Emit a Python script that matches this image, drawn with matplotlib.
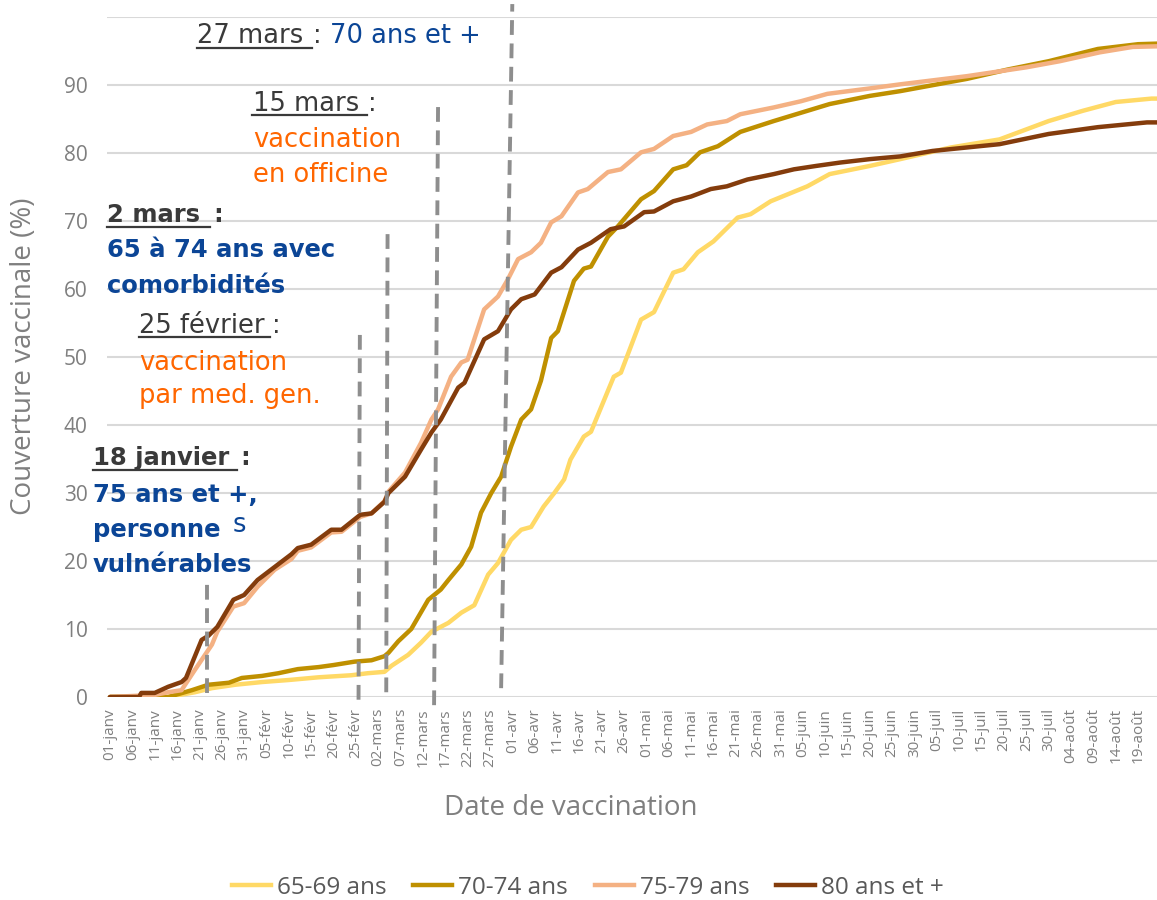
import matplotlib
matplotlib.use("Agg")
import matplotlib.pyplot as plt
from matplotlib.lines import Line2D

# ---------------- data (day 0 = 01-janv) ----------------
series_labels = ["65-69 ans", "70-74 ans", "75-79 ans", "80 ans et +"]
series_colors = ["#FFD966", "#BF9000", "#F4B183", "#843C0C"]

days_6569 = [0, 13, 19, 22.8, 28, 34, 40, 46.7, 54, 57.7, 61.4, 63, 66.7, 69.6, 71.9, 75.7,
             78.6, 81.5, 84.6, 86.8, 89.7, 92, 94.2, 97, 99.4, 101.6, 103, 106, 107.6, 112.7,
             114.3, 118.8, 121.7, 126, 128.3, 131.5, 135, 140.4, 143.3, 147.8, 156, 161, 170,
             176.8, 188, 199, 210, 217.6, 225, 233, 235]
vals_6569 = [0, 0, 0.7, 1.3, 1.8, 2.2, 2.5, 2.9, 3.2, 3.5, 3.7, 4.6, 6.2, 8, 9.6, 10.9,
             12.4, 13.5, 18, 19.7, 23.1, 24.6, 25, 28, 30, 32, 34.9, 38.3, 39, 47.1,
             47.7, 55.5, 56.6, 62.4, 62.9, 65.4, 67, 70.5, 71, 72.9, 75.1, 76.9, 78.1,
             79.1, 80.8, 82, 84.7, 86.2, 87.5, 88, 88]

days_7074 = [0, 13, 18.3, 22, 26.6, 29.5, 34, 37.7, 42, 46.7, 50, 54.7, 58.5, 61.4, 62.3,
             64.5, 67.4, 71.2, 74, 75.7, 78.6, 80.8, 83, 85.3, 87.5, 89.7, 92, 94.2, 96.4,
             98.7, 100.2, 103.8, 106, 107.6, 111.4, 113.6, 118.8, 121.7, 126, 129, 132, 136,
             141, 148.5, 156, 161, 170, 176.8, 191.7, 201, 210, 221, 230, 235]
vals_7074 = [0, 0, 1, 1.8, 2.1, 2.8, 3.1, 3.5, 4.1, 4.4, 4.7, 5.2, 5.4, 6.0, 6.5,
             8.2, 10, 14.3, 15.8, 17.2, 19.5, 22.1, 27.1, 30, 32.4, 36.8, 40.8, 42.3, 46.5,
             52.8, 53.8, 61.2, 63, 63.3, 67.7, 69.2, 73.2, 74.4, 77.6, 78.2, 80.1, 81,
             83.1, 84.7, 86.2, 87.2, 88.4, 89.1, 90.9, 92.3, 93.5, 95.3, 96, 96.1]

days_7579 = [0, 10, 13, 16, 19, 22.8, 24, 27.6, 30, 33, 36.8, 40.6, 42, 45, 49.5, 51.8, 56,
             58.5, 61.4, 62.3, 66, 69.6, 71.9, 73.4, 76.3, 78.6, 80, 83.7, 86.8, 89, 91.3,
             94.2, 96.4, 98.7, 101, 104.7, 106.9, 111.4, 114.3, 118.8, 121.7, 126, 130,
             133.6, 138, 141, 148.5, 154.5, 160.5, 170, 176.8, 191.7, 205, 212.5, 221.4,
             228.8, 235]
vals_7579 = [0, 0.3, 0.7, 1.0, 4, 7.7, 9.6, 13.3, 13.8, 16.2, 18.7, 20.3, 21.5, 22, 24.2, 24.3, 26.5,
             27, 28.8, 30.2, 33, 37.4, 40.8, 42.3, 47.1, 49.2, 49.6, 57, 58.9, 61.4, 64.4,
             65.4, 66.8, 69.8, 70.7, 74.2, 74.7, 77.2, 77.6, 80.1, 80.6, 82.5, 83.1,
             84.2, 84.7, 85.7, 86.7, 87.6, 88.7, 89.5, 90.1, 91.3, 92.6, 93.5, 94.8,
             95.6, 95.7]

days_80 = [0, 6.5, 7, 10, 13, 16, 17, 20.5, 22, 24, 27.6, 30, 33, 36.8, 40.6, 42, 45, 49.5,
           51.8, 56, 58.5, 61.4, 62.3, 66, 69.6, 71.9, 74, 77.9, 79.3, 83.7, 86.8, 89.7, 92,
           95, 98.7, 101, 104.7, 107.6, 112, 115, 119.5, 121.7, 126, 130, 134.4, 138, 142.6,
           148.5, 153, 158, 163.4, 170, 176.8, 184, 199, 210, 221, 232, 235]
vals_80 = [0, 0, 0.6, 0.6, 1.5, 2.2, 2.8, 8.4, 9, 10.3, 14.3, 15, 17.2, 19.1, 21, 21.9, 22.4, 24.6,
           24.6, 26.8, 27, 28.7, 30, 32.4, 36.4, 38.9, 40.8, 45.5, 46.2, 52.6, 53.8, 57, 58.5,
           59.2, 62.4, 63.2, 65.8, 66.8, 68.8, 69.2, 71.3, 71.4, 72.9, 73.6, 74.7, 75.1, 76.1,
           76.9, 77.6, 78.1, 78.6, 79.1, 79.5, 80.3, 81.3, 82.8, 83.8, 84.5, 84.5]

# event lines: (day at bottom, day at top, y bottom, y top)
event_day_bottom = [21.6, 55.6, 61.8, 72.5, 87.5]
event_day_top = [21.6, 55.9, 62.1, 73.4, 90.0]
event_y_bottom = [0.6, -0.4, 0.7, -1.2, 1.3]
event_y_top = [16.9, 53.3, 69.0, 87.9, 101.9]

tick_days = list(range(0, 231, 5))
tick_labels = ["01-janv", "06-janv", "11-janv", "16-janv", "21-janv", "26-janv", "31-janv",
               "05-févr", "10-févr", "15-févr", "20-févr", "25-févr", "02-mars", "07-mars",
               "12-mars", "17-mars", "22-mars", "27-mars", "01-avr", "06-avr", "11-avr",
               "16-avr", "21-avr", "26-avr", "01-mai", "06-mai", "11-mai", "16-mai", "21-mai",
               "26-mai", "31-mai", "05-juin", "10-juin", "15-juin", "20-juin", "25-juin",
               "30-juin", "05-juil", "10-juil", "15-juil", "20-juil", "25-juil", "30-juil",
               "04-août", "09-août", "14-août", "19-août"]
y_ticks = [0, 10, 20, 30, 40, 50, 60, 70, 80, 90, 100]
y_tick_labels = ["0", "10", "20", "30", "40", "50", "60", "70", "80", "90", ""]

# ---------------- figure ----------------
W, H = 1157, 900
fig = plt.figure(figsize=(W / 100, H / 100), dpi=100)
X0, PXD = 110, 4.47
ax = fig.add_axes([107 / W, 1 - 697 / H, 1 - 107 / W, (697 - 17) / H])
ax.set_xlim((107 - X0) / PXD, (W - X0) / PXD)
ax.set_ylim(0, 100)

axis_font = "Open Sans"
ann_font = "DejaVu Sans"
gray = "#7F7F7F"

for s in ax.spines.values():
    s.set_visible(False)
ax.set_yticks(y_ticks)
ax.set_yticklabels(y_tick_labels, fontsize=15, color=gray, family=axis_font)
ax.set_xticks(tick_days)
ax.set_xticklabels(tick_labels, rotation=90, fontsize=11, color=gray, family=axis_font)
ax.tick_params(axis="y", length=0, pad=14)
ax.tick_params(axis="x", length=0, pad=8)
ax.grid(axis="y", color="#D9D9D9", lw=1.5)
ax.set_axisbelow(True)

all_days = [days_6569, days_7074, days_7579, days_80]
all_vals = [vals_6569, vals_7074, vals_7579, vals_80]
for d, v, c, lab in zip(all_days, all_vals, series_colors, series_labels):
    ax.plot(d, v, color=c, lw=3.2, label=lab, solid_capstyle="round", zorder=3)

for xb, xt, yb, yt in zip(event_day_bottom, event_day_top, event_y_bottom, event_y_top):
    ax.plot([xb, xt], [yb, yt], color="#8E8E8E", lw=2.8, linestyle=(0, (3.8, 2.2)),
            clip_on=False, zorder=4)

fig.text(571 / W, 1 - 808 / H, "Date de vaccination", ha="center", va="center",
         fontsize=20, color=gray, family=axis_font)
fig.text(24 / W, 1 - 356 / H, "Couverture vaccinale (%)", ha="center", va="center",
         rotation=90, fontsize=20, color=gray, family=axis_font)

handles = [Line2D([0], [0], color=c, lw=3.2) for c in series_colors]
fig.legend(handles, series_labels, loc="center", bbox_to_anchor=(588 / W, 1 - 888 / H),
           ncol=4, frameon=False, handlelength=1.6, handletextpad=0.25, columnspacing=1.1,
           labelcolor="#595959", prop={"family": axis_font, "size": 17.5})

# ---------------- annotations ----------------
dark = "#3A3A3A"
blue = "#0B4596"
orange = "#FF6600"


def txt(s, x, y, color, bold=False, size=None):
    if size is None:
        size = 17.5 if bold else 18.5
    fig.text(x / W, 1 - y / H, s, ha="left", va="baseline", color=color, family=ann_font,
             fontsize=size, fontweight="bold" if bold else "normal", zorder=10)


def underline(x0, x1, y):
    fig.add_artist(Line2D([x0 / W, x1 / W], [1 - y / H, 1 - y / H], color=dark, lw=1.6))


# 27 mars
txt("27 mars", 197, 43, dark); underline(197, 312, 48)
txt(":", 313, 43, dark)
txt("70 ans et +", 330, 43, blue)
# 15 mars
txt("15 mars", 253, 111, dark); underline(252, 367, 115)
txt(":", 368, 111, dark)
txt("vaccination", 253, 147, orange)
txt("en officine", 253, 182, orange)
# 2 mars
txt("2 mars", 107, 222, dark, bold=True); underline(107, 210, 227)
txt(":", 213, 222, dark, bold=True)
txt("65 à 74 ans avec", 107, 257, blue, bold=True)
txt("comorbidités", 107, 293, blue, bold=True)
# 25 fevrier
txt("25 février", 139, 333, dark); underline(139, 270, 337)
txt(":", 272, 333, dark)
txt("vaccination", 139, 370, orange)
txt("par med. gen.", 139, 403, orange)
# 18 janvier
txt("18 janvier", 93, 465, dark, bold=True); underline(93, 237, 470)
txt(":", 240, 465, dark, bold=True)
txt("75 ans et +,", 93, 502, blue, bold=True)
txt("personne", 93, 537, blue, bold=True)
txt("s", 233, 532, blue)
txt("vulnérables", 93, 572, blue, bold=True)

fig.savefig("out.png", dpi=100)
